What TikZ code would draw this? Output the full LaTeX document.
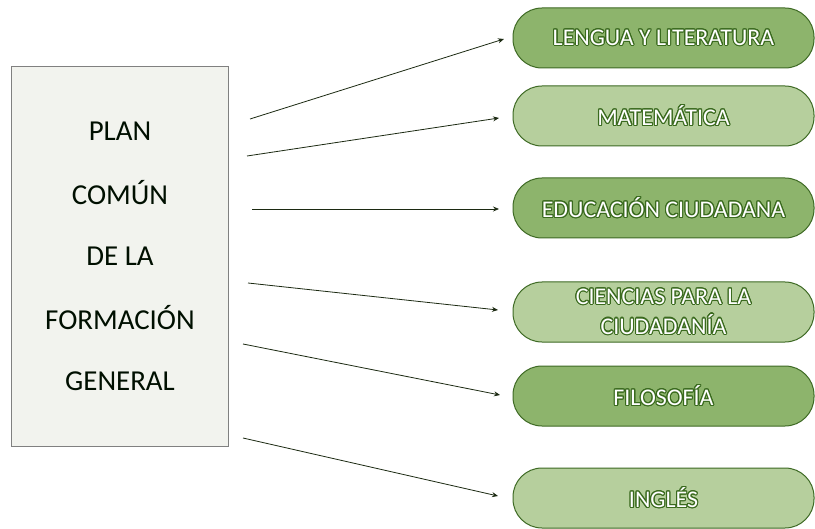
\documentclass[tikz,border=0pt]{standalone}
\usepackage{fontspec}
\setmainfont{Carlito}
\usepackage{contour}
\contourlength{1.1pt}
\contournumber{16}
\usetikzlibrary{arrows.meta}
\definecolor{pilldark}{HTML}{8DB46C}
\definecolor{pilllight}{HTML}{B6CF9D}
\definecolor{pillborder}{HTML}{3E6A24}
\definecolor{glow}{HTML}{3A6A1E}
\definecolor{boxfill}{HTML}{F2F3EE}
\definecolor{boxborder}{HTML}{808080}
\definecolor{arrowcol}{HTML}{1C2A12}
\newcommand{\gtext}[1]{\contour{glow}{\textcolor{white}{#1}}}
\tikzset{
  pill/.style={draw=pillborder, line width=1bp, rounded corners=29bp,
    minimum width=301bp, minimum height=60bp, inner sep=0pt,
    align=center, font=\fontsize{24}{30}\selectfont},
  pilld/.style={pill, fill=pilldark},
  pilll/.style={pill, fill=pilllight},
  conn/.style={draw=arrowcol, line width=0.8bp, -{Stealth[length=6bp,width=5bp]}},
  plantext/.style={font=\fontsize{29}{29}\selectfont, text=black!90!green!60!black}
}
\begin{document}
\begin{tikzpicture}[x=1bp,y=-1bp]
\useasboundingbox (0,0) rectangle (815,529);
\fill[white] (0,0) rectangle (815,529);
% left box
\node[draw=boxborder, fill=boxfill, line width=1bp, minimum width=216bp, minimum height=379bp, inner sep=0pt] (plan) at (120,256.5) {};
\node[plantext] (t1) at (120,131) {PLAN};
\node[plantext] (t2) at (120,193) {COMÚN};
\node[plantext] (t3) at (120,256) {DE LA};
\node[plantext] (t4) at (120,318) {FORMACIÓN};
\node[plantext] (t5) at (120,381) {GENERAL};
% pills
\node[pilld] (p1) at (663.5,38) {\gtext{LENGUA Y LITERATURA}};
\node[pilll] (p2) at (663.5,116) {\gtext{MATEMÁTICA}};
\node[pilld] (p3) at (663.5,208) {\gtext{EDUCACIÓN CIUDADANA}};
\node[pilll] (p4) at (663.5,312) {\gtext{CIENCIAS PARA LA}\\\gtext{CIUDADANÍA}};
\node[pilld] (p5) at (663.5,396) {\gtext{FILOSOFÍA}};
\node[pilll] (p6) at (663.5,498) {\gtext{INGLÉS}};
% connector ends
\coordinate (s1) at (250,119);
\coordinate (s2) at (247,156);
\coordinate (s3) at (252,209);
\coordinate (s4) at (248,283);
\coordinate (s5) at (243,344);
\coordinate (s6) at (243,438);
\coordinate (e1) at (504,39);
\coordinate (e2) at (499,118);
\coordinate (e3) at (499,209);
\coordinate (e4) at (498,310);
\coordinate (e5) at (500,395);
\coordinate (e6) at (498,496);
\draw[conn] (s1) -- (e1);
\draw[conn] (s2) -- (e2);
\draw[conn] (s3) -- (e3);
\draw[conn] (s4) -- (e4);
\draw[conn] (s5) -- (e5);
\draw[conn] (s6) -- (e6);
\end{tikzpicture}
\end{document}
